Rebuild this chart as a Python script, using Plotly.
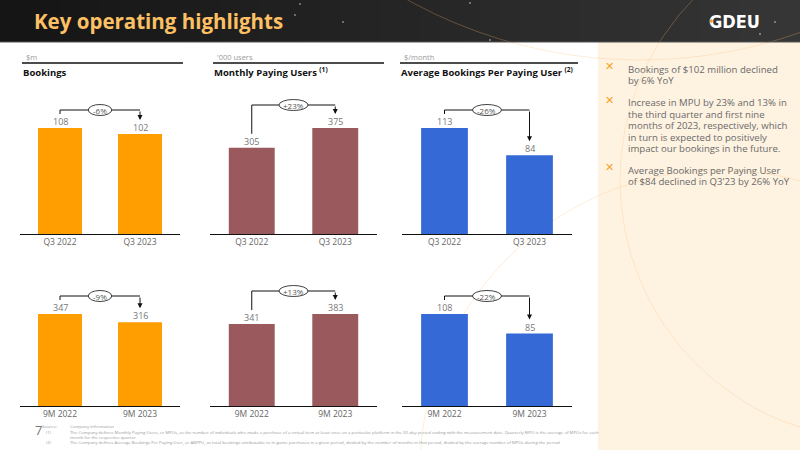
import plotly.graph_objects as go

# ---------------- data ----------------
quarter_cats = ["Q3 2022", "Q3 2023"]
nine_month_cats = ["9M 2022", "9M 2023"]

bookings_q3 = [108, 102]
mpu_q3 = [305, 375]
abppu_q3 = [113, 84]

bookings_9m = [347, 316]
mpu_9m = [341, 383]
abppu_9m = [108, 85]

pct_q3 = ["-6%", "+23%", "-26%"]
pct_9m = ["-9%", "+13%", "-22%"]

units = ["$m", "'000 users", "$/month"]
titles = ["Bookings", "Monthly Paying Users <sup>(1)</sup>",
          "Average Bookings Per Paying User <sup>(2)</sup>"]
colors = ["#FF9E00", "#9A5A5D", "#3469D6"]

bullets = [
    ["Bookings of $102 million declined", "by 6% YoY"],
    ["Increase in MPU by 23% and 13% in", "the third quarter and first nine",
     "months of 2023, respectively, which", "in turn is expected to positively",
     "impact our bookings in the future."],
    ["Average Bookings per Paying User", "of $84 declined in Q3'23 by 26% YoY"],
]

footnotes = [
    ("Source:", "Company information"),
    ("(1)", "The Company defines Monthly Paying Users, or MPUs, as the number of individuals who made a purchase of a virtual item at least once on a particular platform in the 30-day period ending with the measurement date. Quarterly MPU is the average of MPUs for each"),
    ("", "month for the respective quarter"),
    ("(2)", "The Company defines Average Bookings Per Paying User, or ABPPU, as total bookings attributable to in-game purchases in a given period, divided by the number of months in that period, divided by the average number of MPUs during the period"),
]

# ---------------- layout helpers ----------------
W, H = 800, 450
FONT = "Open Sans"


def px(x):
    return x / W


def py(y):
    return 1 - y / H


col_x = [(20, 180), (210, 377), (402, 572)]
rows = [
    dict(cats=quarter_cats, series=[bookings_q3, mpu_q3, abppu_q3], pct=pct_q3,
         dom=(82, 234), barpx=106),
    dict(cats=nine_month_cats, series=[bookings_9m, mpu_9m, abppu_9m], pct=pct_9m,
         dom=(258, 406), barpx=92),
]

fig = go.Figure()
shapes = []
annotations = []

# header band (gradient-ish)
n_strips = 40
for i in range(n_strips):
    t = i / (n_strips - 1)
    c0, c1 = (0x15, 0x15, 0x15), (0x36, 0x36, 0x36)
    c = tuple(int(a + (b - a) * t) for a, b in zip(c0, c1))
    shapes.append(dict(type="rect", xref="paper", yref="paper",
                       x0=i / n_strips, x1=(i + 1) / n_strips + 0.002,
                       y0=py(42), y1=1, fillcolor="rgb(%d,%d,%d)" % c,
                       line=dict(width=0), layer="below"))
shapes.append(dict(type="line", xref="paper", yref="paper", x0=0, x1=1,
                   y0=py(42), y1=py(42), line=dict(color="#555", width=1)))
# little stars in header
for sx, sy in [(295, 15), (343, 22), (470, 3), (490, 40), (760, 34), (775, 22), (300, 4)]:
    shapes.append(dict(type="circle", xref="paper", yref="paper",
                       x0=px(sx - 0.8), x1=px(sx + 0.8), y0=py(sy + 0.8), y1=py(sy - 0.8),
                       fillcolor="rgba(255,255,255,0.8)", line=dict(width=0)))

# right panel
shapes.append(dict(type="rect", xref="paper", yref="paper", x0=px(598), x1=1,
                   y0=0, y1=py(42), fillcolor="#FEF2E1", line=dict(width=0), layer="below"))

# decorative faint arcs
arc_col = "rgba(250,190,120,0.28)"
for cx, cy, r in [(640, -420, 480), (720, 470, 300), (880, 180, 260)]:
    shapes.append(dict(type="circle", xref="paper", yref="paper",
                       x0=px(cx - r), x1=px(cx + r), y0=py(cy + r), y1=py(cy - r),
                       line=dict(color=arc_col, width=1), layer="below"))

# title and logo
annotations.append(dict(x=px(32), y=py(21), xref="paper", yref="paper", xanchor="left",
                        yanchor="middle", showarrow=False, text="<b>Key operating highlights</b>",
                        font=dict(family=FONT, size=20.5, color="#FDC064")))
annotations.append(dict(x=px(734), y=py(22), xref="paper", yref="paper", xanchor="center",
                        yanchor="middle", showarrow=False, text="<b>GDEU</b>",
                        font=dict(family="Liberation Sans Narrow, DejaVu Sans Condensed", size=18,
                                  color="#FFFFFF")))
annotations.append(dict(x=px(717), y=py(13), xref="paper", yref="paper", showarrow=False,
                        text="✦", font=dict(size=8, color="#F29A1E")))

# column headers
for c, (x0, x1) in enumerate(col_x):
    lx0 = [22, 213, 400][c]
    lx1 = [183, 384, 578][c]
    annotations.append(dict(x=px(lx0 + 2), y=py(57), xref="paper", yref="paper", xanchor="left",
                            yanchor="middle", showarrow=False, text=units[c],
                            font=dict(family=FONT, size=7.5, color="#9a9a9a")))
    shapes.append(dict(type="line", xref="paper", yref="paper", x0=px(lx0), x1=px(lx1),
                       y0=py(63), y1=py(63), line=dict(color="#111", width=1.3)))
    annotations.append(dict(x=px(lx0 - 1), y=py(72.5), xref="paper", yref="paper",
                            xanchor="left", yanchor="middle", showarrow=False,
                            text="<b>" + titles[c] + "</b>",
                            font=dict(family=FONT, size=9.5, color="#111")))

# charts
k = 0
for r, row in enumerate(rows):
    d0, d1 = row["dom"]
    dom_h = d1 - d0
    for c in range(3):
        k += 1
        xa = "x" if k == 1 else "x%d" % k
        ya = "y" if k == 1 else "y%d" % k
        vals = row["series"][c]
        vmax = max(vals)
        ytop = vmax * dom_h / row["barpx"]
        fig.add_trace(go.Bar(x=[0, 1], y=vals, xaxis=xa, yaxis=ya, width=0.55,
                             marker=dict(color=colors[c], line=dict(width=0)),
                             showlegend=False, hoverinfo="skip"))
        for i, v in enumerate(vals):
            annotations.append(dict(x=i, y=v, xref=xa, yref=ya, yshift=6.5, yanchor="middle",
                                    showarrow=False, text=str(v),
                                    font=dict(family=FONT, size=9, color="#777")))
        xkey = "xaxis" if k == 1 else "xaxis%d" % k
        ykey = "yaxis" if k == 1 else "yaxis%d" % k
        fig.update_layout(**{
            xkey: dict(domain=[px(col_x[c][0]), px(col_x[c][1])], anchor=ya,
                       range=[-0.5, 1.5], tickvals=[0, 1], ticktext=row["cats"],
                       showline=True, linecolor="#111", linewidth=1.3, ticks="",
                       showgrid=False, zeroline=False, fixedrange=True,
                       tickfont=dict(family=FONT, size=8.5, color="#666")),
            ykey: dict(domain=[py(d1), py(d0)], anchor=xa, range=[0, ytop],
                       visible=False, showgrid=False, zeroline=False, fixedrange=True),
        })
        # bracket & arrow
        a, b = vals
        u = vmax / row["barpx"]  # data units per pixel
        yb = vmax + (18 if a >= b else 23) * u
        yl = a + 14 * u
        yr = b + 14 * u
        shapes.append(dict(type="path", xref=xa, yref=ya,
                           path="M 0,%f L 0,%f L 1,%f" % (yl, yb, yb),
                           line=dict(color="#111", width=1)))
        annotations.append(dict(x=1, y=yr, ax=1, ay=yb, xref=xa, yref=ya, axref=xa, ayref=ya,
                                showarrow=True, arrowhead=2, arrowsize=1, arrowwidth=1,
                                arrowcolor="#111", text=""))
        label = row["pct"][c]
        w = 5.5 * len(label) + 7
        shapes.append(dict(type="circle", xref=xa, yref=ya, xsizemode="pixel",
                           ysizemode="pixel", xanchor=0.5, yanchor=yb,
                           x0=-w / 2, x1=w / 2, y0=-5.5, y1=5.5,
                           fillcolor="white", line=dict(color="#111", width=0.8)))
        annotations.append(dict(x=0.5, y=yb, xref=xa, yref=ya, showarrow=False, text=label,
                                yanchor="middle", font=dict(family=FONT, size=8, color="#555")))

# bullets in right panel
line_y = [[69, 80.5], [102.3, 114, 125.5, 137, 148.4], [170, 181.7]]
for bi, lines in enumerate(bullets):
    annotations.append(dict(x=px(616), y=py(line_y[bi][0] - 2), xref="paper", yref="paper",
                            showarrow=False, text="✕", yanchor="middle",
                            font=dict(family="DejaVu Sans", size=11, color="#F6A31E")))
    for li, t in enumerate(lines):
        annotations.append(dict(x=px(626), y=py(line_y[bi][li]), xref="paper", yref="paper",
                                xanchor="left", yanchor="middle", showarrow=False, text=t,
                                font=dict(family=FONT, size=9.6, color="#6a6a6a")))

# footer
annotations.append(dict(x=px(33), y=py(430), xref="paper", yref="paper", showarrow=False,
                        yanchor="middle", text="7",
                        font=dict(family=FONT, size=13, color="#777")))
foot_y = [426, 431.5, 436.5, 442]
for (lab, txt), fy in zip(footnotes, foot_y):
    if lab:
        annotations.append(dict(x=px(40 if lab == "Source:" else 44), y=py(fy), xref="paper",
                                yref="paper", xanchor="left", yanchor="middle",
                                showarrow=False, text=lab,
                                font=dict(family=FONT, size=4.3, color="#999")))
    annotations.append(dict(x=px(68), y=py(fy), xref="paper", yref="paper", xanchor="left",
                            yanchor="middle", showarrow=False, text=txt,
                            font=dict(family=FONT, size=4.3, color="#999")))

fig.update_layout(width=W, height=H, margin=dict(l=0, r=0, t=0, b=0),
                  paper_bgcolor="white", plot_bgcolor="rgba(0,0,0,0)",
                  shapes=shapes, annotations=annotations, bargap=0.3,
                  font=dict(family=FONT))

fig.write_html("out.html")
